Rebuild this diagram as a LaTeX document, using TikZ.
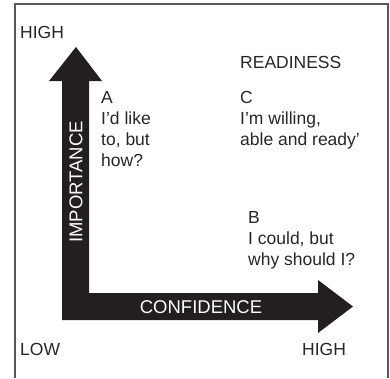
\documentclass[tikz,border=0pt]{standalone}
\usepackage{fontspec}
\setmainfont{Liberation Sans}
\begin{document}
\begin{tikzpicture}[x=1pt,y=-1pt,
  lbl/.style={anchor=base west,inner sep=0pt,font=\fontsize{17.5}{21}\selectfont,text=black!85},
  mlbl/.style={anchor=north west,inner sep=0pt,align=left,font=\fontsize{17.5}{21}\selectfont,text=black!85},
  axlbl/.style={inner sep=0pt,font=\fontsize{18.5}{20}\selectfont,text=white},
  frame/.style={draw=black!65,line width=1.2pt}]
\useasboundingbox (0,0) rectangle (390,378);
% frame (open at bottom)
\coordinate (fbl) at (15,378);
\coordinate (ftl) at (15,4);
\coordinate (ftr) at (388,4);
\coordinate (fbr) at (388,378);
\draw[frame] (fbl) -- (ftl) -- (ftr) -- (fbr);
% L-shaped double arrow
\fill[fill={rgb,255:red,35;green,31;blue,32}]
  (76,47) -- (102,81) -- (89,81) -- (89,293) -- (318,293) -- (318,280)
  -- (353,306.5) -- (318,333) -- (318,320) -- (62,320) -- (62,81) -- (49,81) -- cycle;
\node[axlbl,rotate=90] (imp) at (76,182) {IMPORTANCE};
\node[axlbl] (conf) at (201,307) {CONFIDENCE};
% labels
\node[lbl] (hightop) at (20,38) {HIGH};
\node[lbl] (low) at (20,355) {LOW};
\node[lbl] (highbot) at (302,355) {HIGH};
\node[lbl] (ready) at (240,68) {READINESS};
\node[mlbl] (a) at (101,91) {A\\I’d like\\to, but\\how?};
\node[mlbl] (c) at (240,91) {C\\I’m willing,\\able and ready’};
\node[mlbl] (b) at (248,211) {B\\I could, but\\why should I?};
\end{tikzpicture}
\end{document}
